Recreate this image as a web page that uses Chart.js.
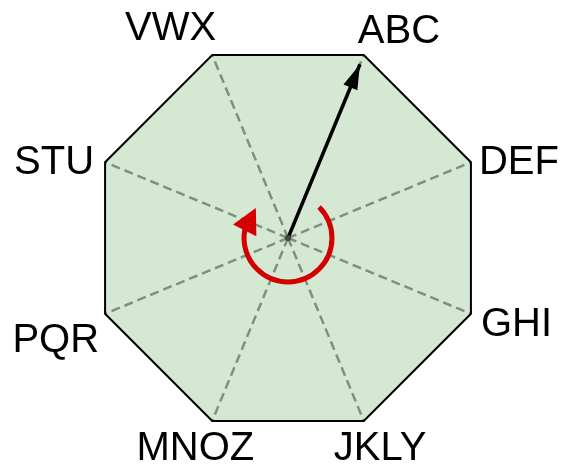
<!DOCTYPE html>
<html>
<head>
<meta charset="utf-8">
<script src="https://cdn.jsdelivr.net/npm/chart.js@4"></script>
<style>
  html, body { margin: 0; padding: 0; background: #fff; }
  #wrap { width: 561px; height: 468px; }
</style>
</head>
<body>
<div id="wrap"><canvas id="grafico"></canvas></div>
<script>
var labels = ['ABC', 'DEF', 'GHI', 'JKLY', 'MNOZ', 'PQR', 'STU', 'VWX'];
var outline = [10, 10, 10, 10, 10, 10, 10, 10];
var pointer = [9.5, 0, 0, 0, 0, 0, 0, 0];
var scaleMax = 10;

// where each label sits relative to its vertex (alignment, dx, baseline dy)
var labelPlace = [
    { align: 'left', dx: -6, dy: -12 },
    { align: 'left', dx: 8, dy: 12 },
    { align: 'left', dx: 10, dy: 22 },
    { align: 'left', dx: -30, dy: 39 },
    { align: 'right', dx: 42, dy: 39 },
    { align: 'right', dx: -6, dy: 38 },
    { align: 'right', dx: -11, dy: 12 },
    { align: 'right', dx: 4, dy: -15 }
];

var decorations = {
    id: 'decorations',
    afterDraw: function (chart) {
        var ctx = chart.ctx;
        var r = chart.scales.r;
        var cx = r.xCenter, cy = r.yCenter;

        // arrowhead at the tip of the pointer dataset
        var tip = r.getPointPosition(0, r.getDistanceFromCenterForValue(pointer[0]));
        var ang = Math.atan2(tip.y - cy, tip.x - cx);
        var len = 25, half = 7.5;
        ctx.save();
        ctx.fillStyle = '#000';
        ctx.beginPath();
        ctx.moveTo(tip.x, tip.y);
        ctx.lineTo(tip.x - len * Math.cos(ang) + half * Math.sin(ang), tip.y - len * Math.sin(ang) - half * Math.cos(ang));
        ctx.lineTo(tip.x - len * Math.cos(ang) - half * Math.sin(ang), tip.y - len * Math.sin(ang) + half * Math.cos(ang));
        ctx.closePath();
        ctx.fill();

        // red rotation arrow around the centre
        var rad = r.drawingArea * 0.222;
        var a0 = -45 * Math.PI / 180, a1 = 190 * Math.PI / 180, aTip = 223 * Math.PI / 180;
        ctx.strokeStyle = '#d40000';
        ctx.fillStyle = '#d40000';
        ctx.lineWidth = 5;
        ctx.beginPath();
        ctx.arc(cx, cy, rad, a0, a1 + 0.02, false);
        ctx.stroke();
        var bx = cx + rad * Math.cos(a1), by = cy + rad * Math.sin(a1);
        var tx = cx + rad * Math.cos(aTip), ty = cy + rad * Math.sin(aTip);
        var ux = tx - bx, uy = ty - by, ul = Math.sqrt(ux * ux + uy * uy);
        ux /= ul; uy /= ul;
        var hw = 13;
        ctx.beginPath();
        ctx.moveTo(tx, ty);
        ctx.lineTo(bx - uy * hw, by + ux * hw);
        ctx.lineTo(bx + uy * hw, by - ux * hw);
        ctx.closePath();
        ctx.fill();

        // vertex labels
        ctx.fillStyle = '#000';
        ctx.font = '40px "Liberation Sans", Arial, sans-serif';
        ctx.textBaseline = 'alphabetic';
        for (var i = 0; i < labels.length; i++) {
            var p = r.getPointPosition(i, r.drawingArea);
            ctx.textAlign = labelPlace[i].align;
            ctx.fillText(labels[i], p.x + labelPlace[i].dx, p.y + labelPlace[i].dy);
        }
        ctx.restore();
    }
};

var data = {
    labels: labels,
    datasets: [{
        label: 'pointer',
        data: pointer,
        borderColor: '#000',
        borderWidth: 3.5,
        fill: false,
        pointRadius: function (c) { return c.dataIndex === 1 ? 3 : 0; },
        pointBackgroundColor: '#444',
        pointBorderWidth: 0
    },
    {
        label: 'outline',
        data: outline,
        backgroundColor: 'rgba(171, 209, 169, 0.5)',
        borderColor: '#000',
        borderWidth: 2,
        borderJoinStyle: 'miter',
        fill: 'origin',
        pointRadius: 0
    }]
};

var options = {
    responsive: true,
    maintainAspectRatio: false,
    animation: false,
    layout: { padding: { left: 90, right: 75, top: 40, bottom: 32 } },
    plugins: { legend: { display: false }, tooltip: { enabled: false } },
    scales: {
        r: {
            min: 0,
            max: scaleMax,
            startAngle: 22.5,
            ticks: { display: false },
            grid: { display: false },
            pointLabels: { display: false },
            angleLines: {
                display: true,
                color: '#505050',
                lineWidth: 2.5,
                borderDash: [9, 5]
            }
        }
    }
};

var ctx = document.querySelector('#grafico').getContext('2d');
var radarChart = new Chart(ctx, {
    type: 'radar',
    data: data,
    options: options,
    plugins: [decorations]
});
</script>
</body>
</html>
